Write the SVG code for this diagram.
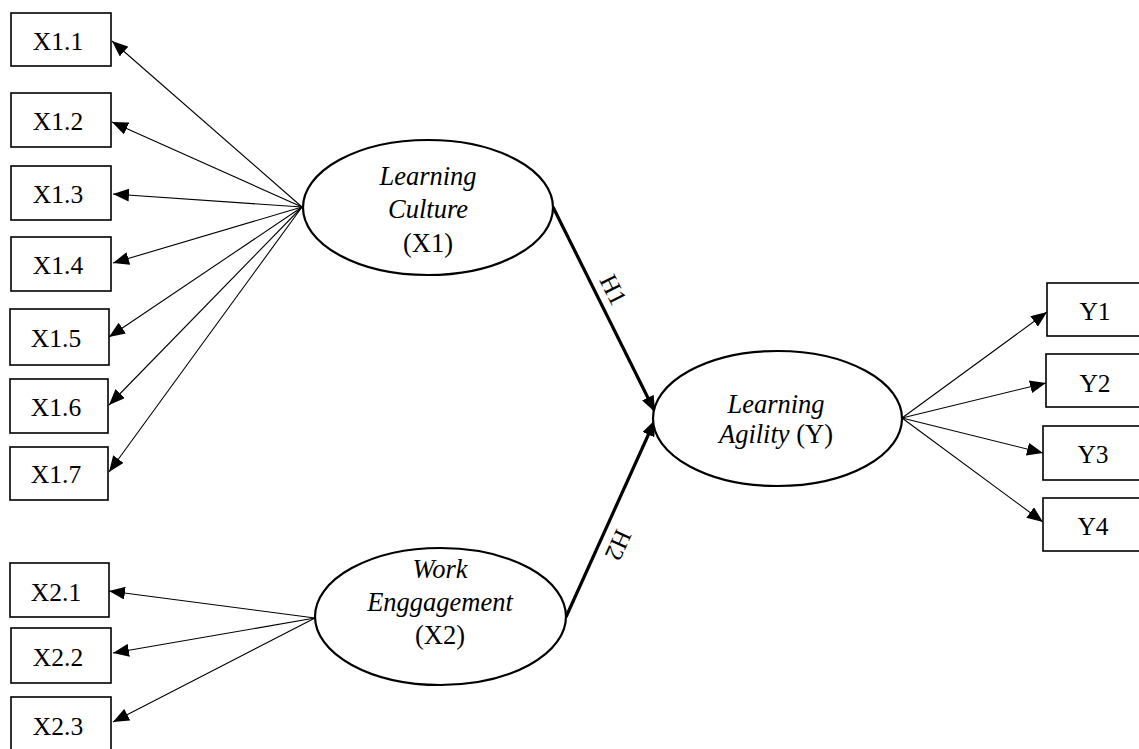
<svg xmlns="http://www.w3.org/2000/svg" width="1139" height="749" viewBox="0 0 1139 749">
<style>
.box{fill:#fff;stroke:#000;stroke-width:1.6}
.ell{fill:#fff;stroke:#000;stroke-width:2.2}
.t{font-family:"Liberation Serif","Times New Roman",serif;font-size:25.5px;fill:#000;text-anchor:middle}
.e{font-size:26.5px}
.i{font-style:italic}
.thin{stroke:#000;stroke-width:1.1;fill:none;marker-end:url(#ah)}
.thick{stroke:#000;stroke-width:3.2;fill:none;marker-end:url(#ahb)}
.lab{font-family:"Liberation Serif","Times New Roman",serif;font-size:25px;fill:#000;text-anchor:middle}
</style>
<defs>
<marker id="ah" markerUnits="userSpaceOnUse" markerWidth="17" markerHeight="13" refX="16" refY="6.5" orient="auto" viewBox="0 0 17 13">
<path d="M0,0 L16,6.5 L0,13 Z" fill="#000"/>
</marker>
<marker id="ahb" markerUnits="userSpaceOnUse" markerWidth="17" markerHeight="13" refX="16" refY="6.5" orient="auto" viewBox="0 0 17 13">
<path d="M0,0 L16,6.5 L0,13 Z" fill="#000"/>
</marker>
</defs>
<rect width="1139" height="749" fill="#fff"/>
<g id="connectors">
<line class="thin" x1="302" y1="207" x2="112" y2="41"/>
<line class="thin" x1="302" y1="207" x2="112" y2="122"/>
<line class="thin" x1="302" y1="207" x2="113" y2="194"/>
<line class="thin" x1="302" y1="207" x2="113" y2="263"/>
<line class="thin" x1="302" y1="207" x2="109" y2="337"/>
<line class="thin" x1="302" y1="207" x2="109" y2="405"/>
<line class="thin" x1="302" y1="207" x2="109" y2="472"/>
<line class="thin" x1="315" y1="618" x2="109" y2="591"/>
<line class="thin" x1="315" y1="618" x2="113" y2="653"/>
<line class="thin" x1="315" y1="618" x2="113" y2="722"/>
<line class="thin" x1="902" y1="418" x2="1047" y2="312"/>
<line class="thin" x1="902" y1="418" x2="1046" y2="383"/>
<line class="thin" x1="902" y1="418" x2="1043" y2="453"/>
<line class="thin" x1="902" y1="418" x2="1043" y2="522"/>
<line class="thick" x1="553" y1="207" x2="655" y2="412"/>
<line class="thick" x1="566" y1="617" x2="655" y2="420"/>
<text class="lab" transform="translate(613,290) rotate(63.5)" y="8">H1</text>
<text class="lab" transform="translate(618,545) rotate(114.3)" y="8">H2</text>
</g>
<g id="X1.1"><rect class="box" x="11" y="13" width="100" height="53"/><text class="t" x="58" y="50">X1.1</text></g>
<g id="X1.2"><rect class="box" x="11" y="93" width="100" height="54"/><text class="t" x="58" y="130">X1.2</text></g>
<g id="X1.3"><rect class="box" x="11" y="166" width="100" height="54"/><text class="t" x="58" y="203">X1.3</text></g>
<g id="X1.4"><rect class="box" x="11" y="237" width="100" height="54"/><text class="t" x="58" y="274">X1.4</text></g>
<g id="X1.5"><rect class="box" x="10" y="309" width="99" height="56"/><text class="t" x="56" y="347">X1.5</text></g>
<g id="X1.6"><rect class="box" x="10" y="379" width="98" height="54"/><text class="t" x="56" y="416">X1.6</text></g>
<g id="X1.7"><rect class="box" x="10" y="447" width="98" height="53"/><text class="t" x="56" y="483">X1.7</text></g>
<g id="X2.1"><rect class="box" x="10" y="563" width="99" height="54"/><text class="t" x="56" y="601">X2.1</text></g>
<g id="X2.2"><rect class="box" x="11" y="628" width="100" height="55"/><text class="t" x="58" y="666">X2.2</text></g>
<g id="X2.3"><rect class="box" x="11" y="697" width="100" height="60"/><text class="t" x="58" y="735">X2.3</text></g>
<g id="Y1"><rect class="box" x="1047" y="283" width="100" height="53"/><text class="t" x="1095" y="320">Y1</text></g>
<g id="Y2"><rect class="box" x="1046" y="354" width="100" height="53"/><text class="t" x="1095" y="392">Y2</text></g>
<g id="Y3"><rect class="box" x="1043" y="426" width="100" height="54"/><text class="t" x="1093" y="463">Y3</text></g>
<g id="Y4"><rect class="box" x="1043" y="498" width="100" height="53"/><text class="t" x="1093" y="535">Y4</text></g>
<g id="X1"><ellipse class="ell" cx="428" cy="207.5" rx="125" ry="67.5"/>
<text class="t e i" x="428" y="185">Learning</text>
<text class="t e i" x="428" y="218">Culture</text>
<text class="t e" x="428" y="252">(X1)</text></g>
<g id="X2"><ellipse class="ell" cx="440.5" cy="616.5" rx="125.5" ry="68.5"/>
<text class="t e i" x="440" y="578">Work</text>
<text class="t e i" x="440" y="611">Enggagement</text>
<text class="t e" x="440" y="644">(X2)</text></g>
<g id="Y"><ellipse class="ell" cx="777.5" cy="418.5" rx="124.5" ry="67.5"/>
<text class="t e i" x="776" y="413">Learning</text>
<text class="t e" x="776" y="443"><tspan class="i">Agility</tspan> (Y)</text></g>
</svg>
